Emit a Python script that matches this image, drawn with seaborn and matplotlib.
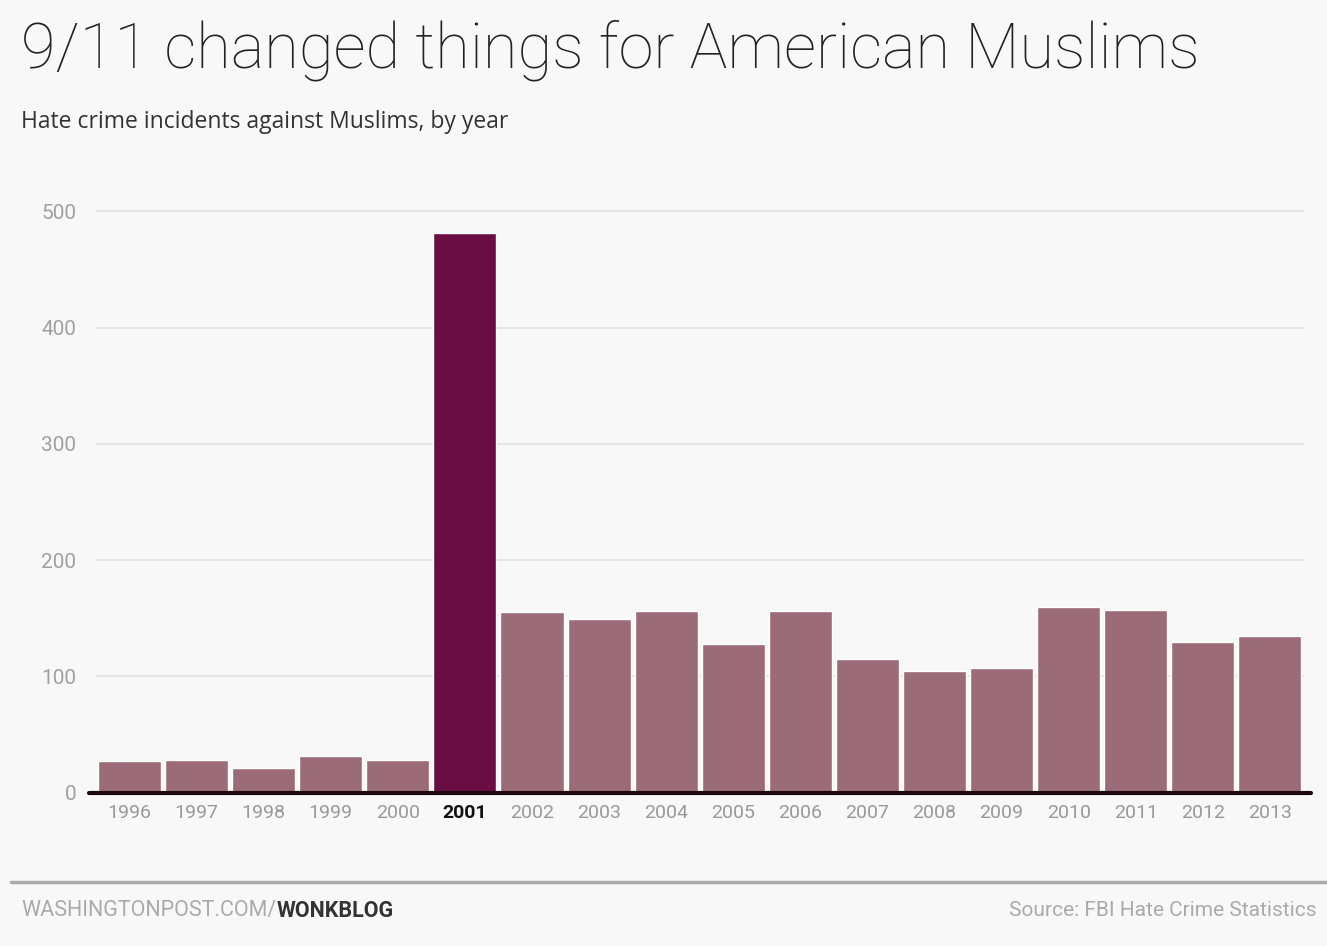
import numpy as np
import pandas as pd
import matplotlib
matplotlib.use("Agg")
import matplotlib.pyplot as plt
import seaborn as sns

# data: anti-Islamic hate crime incidents (FBI)
years = ['1996', '1997', '1998', '1999', '2000', '2001', '2002', '2003', '2004',
         '2005', '2006', '2007', '2008', '2009', '2010', '2011', '2012', '2013']
incidents = [27, 28, 21, 32, 28, 481, 155, 149, 156,
             128, 156, 115, 105, 107, 160, 157, 130, 135]
yticks = [0, 100, 200, 300, 400, 500]

df = pd.DataFrame({'year': years, 'incidents': incidents})

bg = '#f8f8f8'
bar_col = '#9c6b78'
hi_col = '#6a0d42'

sns.set_style("white")
plt.rcParams['font.family'] = ['Roboto', 'DejaVu Sans']

fig = plt.figure(figsize=(13.27, 9.46), dpi=100, facecolor=bg)
ax = fig.add_axes([0.0723, 0.162, 0.910, 0.627], facecolor=bg)

palette = [hi_col if y == '2001' else bar_col for y in years]
sns.barplot(data=df, x='year', y='incidents', hue='year', palette=palette,
            legend=False, width=0.94, saturation=1, ax=ax)

ax.set_xlim(-0.5, len(years) - 0.5)
ax.set_ylim(0, 510)
ax.set_yticks(yticks)
ax.set_yticklabels([str(t) for t in yticks], color='#a0a0a0', fontsize=15)
ax.yaxis.grid(True, color='#e2e2e2', linewidth=1.2)
ax.set_axisbelow(True)
ax.tick_params(axis='y', length=0, pad=14)
ax.tick_params(axis='x', length=0, pad=8, labelsize=14, labelcolor='#999999')
for lab in ax.get_xticklabels():
    if lab.get_text() == '2001':
        lab.set_color('#111111')
        lab.set_fontweight('bold')
ax.set_xlabel('')
ax.set_ylabel('')
for s in ax.spines.values():
    s.set_visible(False)
ax.axhline(0, color='#1a0a10', linewidth=3, xmin=-0.006, xmax=1.006, clip_on=False)

# titles
fig.text(0.016, 0.947, '9/11 changed things for American Muslims', fontsize=45.5,
         fontweight='light', color='#222222', va='center', ha='left')
fig.text(0.016, 0.871, 'Hate crime incidents against Muslims, by year',
         fontsize=16.5, family=['Open Sans', 'DejaVu Sans'],
         color='#333333', va='center', ha='left')

# footer
fig.add_artist(plt.Line2D([0.008, 1.0], [0.068, 0.068], color='#aaaaaa',
                          linewidth=2.5, transform=fig.transFigure))
t1 = fig.text(0.016, 0.037, 'WASHINGTONPOST.COM/', fontsize=15.5, color='#aaaaaa',
              va='center', ha='left')
fig.canvas.draw()
bb = t1.get_window_extent()
fig.text(bb.x1 / fig.bbox.width, 0.037, 'WONKBLOG', fontsize=15.5, color='#333333',
         fontweight='bold', va='center', ha='left')
fig.text(0.992, 0.037, 'Source: FBI Hate Crime Statistics', fontsize=15, color='#aaaaaa',
         va='center', ha='right')

fig.savefig('out.png', dpi=100, facecolor=bg)
